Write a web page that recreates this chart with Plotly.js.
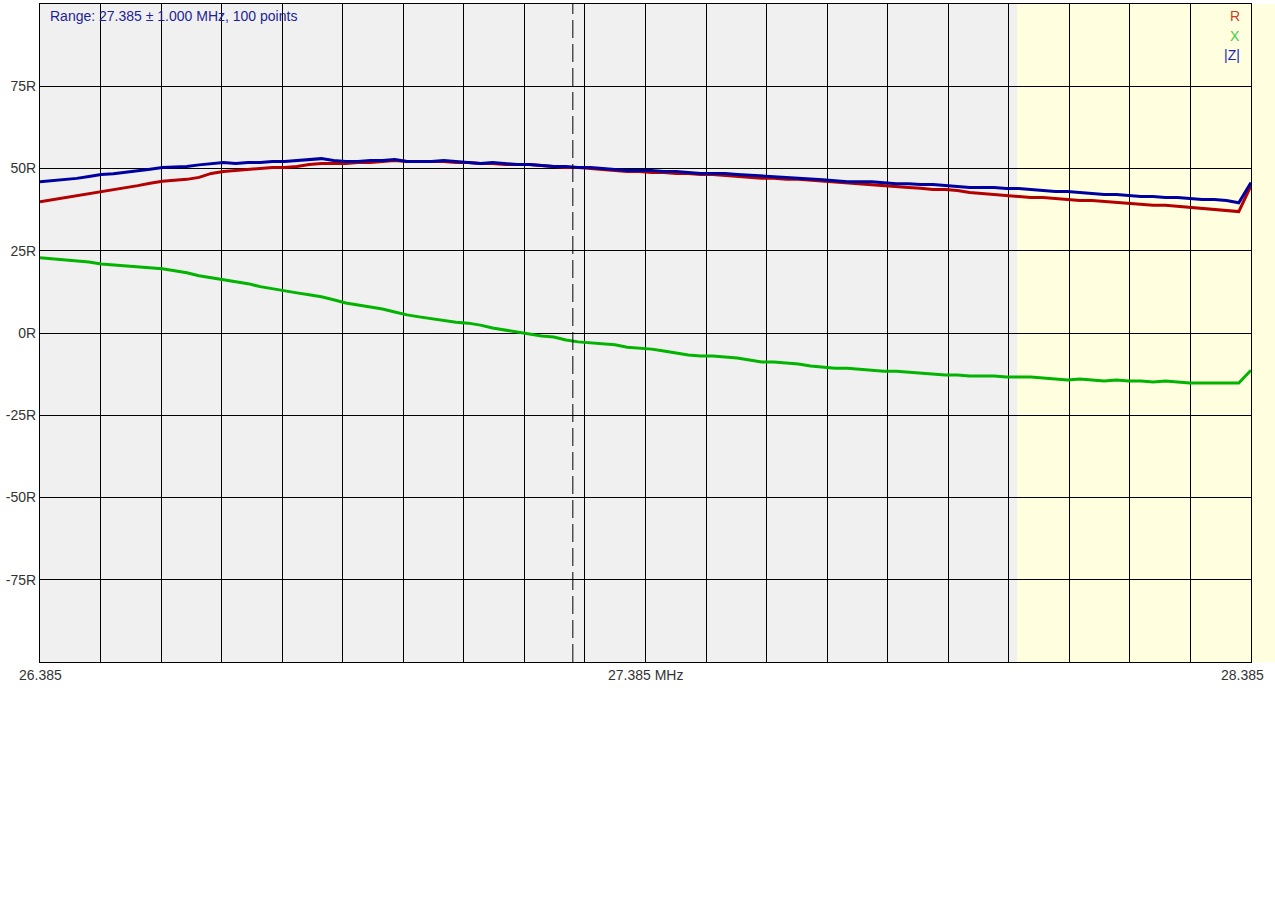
<!DOCTYPE html>
<html>
<head>
<meta charset="utf-8">
<script src="https://cdn.plot.ly/plotly-3.0.1.min.js"></script>
<style>
html,body{margin:0;padding:0;background:#fff;}
#chart{width:1275px;height:910px;}
</style>
</head>
<body>
<div id="chart"></div>
<script>
// Sweep: 27.385 ± 1.000 MHz, 100 points
const centerMHz = 27.385;
const spanMHz = 1.0;
const nPoints = 100;
const markerMHz = 27.265;
const bandStartMHz = 27.9985;

const R = [
  39.9, 40.5, 41.0, 41.8, 42.4, 43.0, 43.6, 44.2, 44.8, 45.5,
  46.1, 46.4, 46.7, 47.3, 48.5, 49.1, 49.4, 49.7, 50.0, 50.3,
  50.3, 50.6, 51.2, 51.5, 51.5, 51.5, 51.8, 51.8, 52.1, 52.4,
  52.1, 52.1, 52.1, 52.1, 51.8, 51.8, 51.5, 51.5, 51.2, 51.2,
  51.2, 50.9, 50.6, 50.3, 50.3, 50.0, 49.7, 49.4, 49.1, 49.1,
  48.8, 48.8, 48.5, 48.5, 48.2, 48.2, 47.9, 47.6, 47.3, 47.0,
  47.0, 46.7, 46.7, 46.4, 46.1, 45.8, 45.5, 45.2, 44.9, 44.6,
  44.3, 44.2, 44.0, 43.6, 43.6, 43.3, 42.7, 42.4, 42.1, 41.8,
  41.5, 41.2, 41.2, 40.9, 40.6, 40.3, 40.3, 40.0, 39.7, 39.4,
  39.1, 38.8, 38.8, 38.5, 38.2, 37.9, 37.6, 37.3, 36.9, 44.8
];
const X = [
  22.9, 22.6, 22.3, 21.9, 21.6, 21.0, 20.7, 20.4, 20.1, 19.8,
  19.5, 18.9, 18.3, 17.4, 16.8, 16.2, 15.6, 15.0, 14.1, 13.4,
  12.8, 12.2, 11.6, 11.0, 10.1, 9.1, 8.5, 7.9, 7.3, 6.4,
  5.5, 4.9, 4.3, 3.7, 3.3, 3.0, 2.4, 1.5, 0.9, 0.3,
  -0.3, -0.9, -1.2, -2.1, -2.7, -3.0, -3.3, -3.6, -4.3, -4.6,
  -4.9, -5.5, -6.1, -6.7, -7.0, -7.0, -7.3, -7.6, -8.2, -8.8,
  -8.8, -9.1, -9.4, -10.0, -10.4, -10.7, -10.7, -11.0, -11.3, -11.6,
  -11.6, -11.9, -12.2, -12.5, -12.8, -12.8, -13.1, -13.1, -13.1, -13.4,
  -13.4, -13.4, -13.7, -14.0, -14.3, -14.0, -14.3, -14.6, -14.3, -14.6,
  -14.6, -14.9, -14.6, -14.9, -15.2, -15.2, -15.2, -15.2, -15.2, -11.3
];
const Z = [
  46.0, 46.3, 46.6, 47.0, 47.6, 48.2, 48.4, 48.8, 49.3, 49.8,
  50.3, 50.5, 50.6, 51.1, 51.5, 51.8, 51.5, 51.8, 51.8, 52.1,
  52.1, 52.4, 52.7, 53.0, 52.4, 52.1, 52.1, 52.4, 52.4, 52.7,
  52.1, 52.1, 52.1, 52.4, 52.1, 51.8, 51.5, 51.8, 51.5, 51.2,
  51.2, 50.9, 50.6, 50.6, 50.3, 50.3, 50.0, 49.7, 49.4, 49.4,
  49.4, 49.1, 49.1, 48.8, 48.5, 48.5, 48.5, 48.2, 48.0, 47.6,
  47.6, 47.3, 47.0, 47.0, 46.6, 46.3, 46.0, 46.0, 46.0, 45.7,
  45.4, 45.4, 45.1, 45.1, 44.8, 44.5, 44.2, 44.2, 44.2, 43.9,
  43.9, 43.6, 43.3, 43.0, 43.0, 42.7, 42.4, 42.1, 42.1, 41.8,
  41.5, 41.5, 41.2, 41.2, 40.9, 40.6, 40.6, 40.3, 39.6, 45.7
];
const yTickVals = [-75, -50, -25, 0, 25, 50, 75];
const yTickText = ['-75R', '-50R', '-25R', '0R', '25R', '50R', '75R'];
const xTickVals = [26.385, 27.385, 28.385];
const xTickText = ['26.385', '27.385 MHz', '28.385'];
const legendNames = ['R', 'X', '|Z|'];

const fStart = centerMHz - spanMHz, fStop = centerMHz + spanMHz;
const freq = [];
for (let i = 0; i < nPoints; i++) freq.push(fStart + (fStop - fStart) * i / (nPoints - 1));

const lineW = 3;
const traces = [
  {x: freq, y: R, type: 'scatter', mode: 'lines', name: 'R', line: {color: '#b40000', width: lineW}},
  {x: freq, y: X, type: 'scatter', mode: 'lines', name: 'X', line: {color: '#00b400', width: lineW}},
  {x: freq, y: Z, type: 'scatter', mode: 'lines', name: '|Z|', line: {color: '#0000a0', width: lineW}}
];
const font = {family: 'Liberation Sans, Arial, sans-serif', size: 14, color: '#333333'};
const xAnchors = ['center', 'center', 'right'];
const xLabelAnn = xTickVals.map((v, i) => ({
  xref: 'x', yref: 'paper', x: v, y: 0, yanchor: 'top', xanchor: xAnchors[i],
  xshift: i === 2 ? 15 : 0, yshift: -3,
  text: xTickText[i], showarrow: false, font: font
}));
const layout = {
  width: 1275, height: 910,
  margin: {l: 40, r: 24, t: 4, b: 248, pad: 0},
  paper_bgcolor: '#ffffff',
  plot_bgcolor: '#f0f0f0',
  showlegend: false,
  font: font,
  xaxis: {
    range: [fStart, fStop], tickvals: xTickVals, showticklabels: false,
    showgrid: true, gridcolor: '#000000', gridwidth: 1,
    minor: {tick0: fStart, dtick: 0.1, showgrid: true, gridcolor: '#000000', gridwidth: 1, ticks: ''},
    showline: true, linecolor: '#000000', linewidth: 1, mirror: true,
    zeroline: false, ticks: '', fixedrange: true
  },
  yaxis: {
    range: [-100, 100], tickvals: yTickVals, ticktext: yTickText,
    showgrid: true, gridcolor: '#000000', gridwidth: 1,
    showline: true, linecolor: '#000000', linewidth: 1, mirror: true,
    zeroline: false, ticks: '', tickfont: font, fixedrange: true
  },
  shapes: [
    {type: 'rect', xref: 'x', yref: 'paper', x0: bandStartMHz, x1: fStop, y0: 0, y1: 1,
     fillcolor: '#ffffe0', line: {width: 0}, layer: 'below'},
    {type: 'rect', xref: 'paper', yref: 'paper', x0: 1, x1: 1.02, y0: 0, y1: 1,
     fillcolor: '#ffffe0', line: {width: 0}, layer: 'below'},
    {type: 'line', xref: 'x', yref: 'paper', x0: markerMHz, x1: markerMHz, y0: 0, y1: 1,
     line: {color: '#000000', width: 1, dash: '18px,6px'}}
  ],
  annotations: [
    {xref: 'paper', yref: 'paper', x: 0.007, y: 0.997, xanchor: 'left', yanchor: 'top',
     text: 'Range: ' + centerMHz.toFixed(3) + ' ± ' + spanMHz.toFixed(3) + ' MHz, ' + nPoints + ' points',
     showarrow: false, font: {family: font.family, size: 14, color: '#1e1e96'}},
    {xref: 'paper', yref: 'paper', x: 0.9925, y: 0.997, xanchor: 'right', yanchor: 'top',
     text: legendNames[0], showarrow: false, font: {family: font.family, size: 14, color: '#d0401a'}},
    {xref: 'paper', yref: 'paper', x: 0.9925, y: 0.967, xanchor: 'right', yanchor: 'top',
     text: legendNames[1], showarrow: false, font: {family: font.family, size: 14, color: '#44cc44'}},
    {xref: 'paper', yref: 'paper', x: 0.9925, y: 0.937, xanchor: 'right', yanchor: 'top',
     text: legendNames[2], showarrow: false, font: {family: font.family, size: 14, color: '#2020b0'}}
  ].concat(xLabelAnn)
};
Plotly.newPlot('chart', traces, layout, {displayModeBar: false, staticPlot: true});
</script>
</body>
</html>
